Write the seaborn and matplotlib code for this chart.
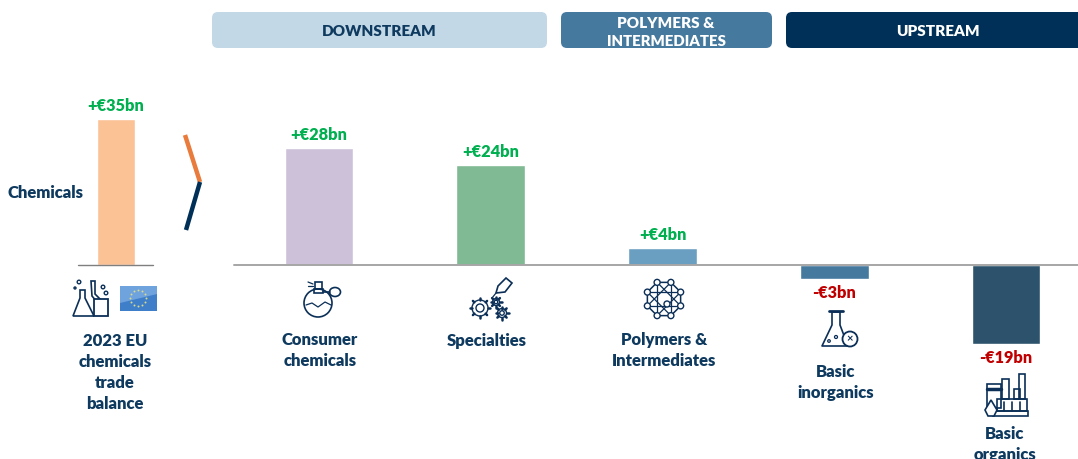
'''EU chemicals trade balance 2023'''
import numpy as np
import pandas as pd
import seaborn as sns
import matplotlib
matplotlib.use('Agg')
import matplotlib.pyplot as plt
from matplotlib.patches import Circle, Ellipse, FancyBboxPatch, Polygon, Rectangle

W, H = 1078, 459
PX_PER_BN = 4.17
BASE = 264.6
NAVY = '#0F3A5F'
ICON = '#0B2F57'
GREEN = '#00B050'
RED = '#C00000'

total_cat = ['Chemicals']
total_val = [35]
total_lab = ['+€35bn']
total_col = ['#FBC296']

segments = ['Consumer chemicals', 'Specialties', 'Polymers & Intermediates',
            'Basic inorganics', 'Basic organics']
values = [28, 24, 4, -3.4, -19]
value_labels = ['+€28bn', '+€24bn', '+€4bn', '-€3bn', '-€19bn']
colors = ['#CDC1DA', '#80BA94', '#6A9FC2', '#45799E', '#2C536B']


def px_axes(fig, left, right):
    ax = fig.add_axes([left / W, 0, (right - left) / W, 1])
    return ax


def draw_bars(ax, cats, vals, cols, labels, width):
    df = pd.DataFrame({'cat': cats, 'val': vals})
    sns.barplot(data=df, x='cat', y='val', hue='cat', palette=cols, order=cats,
                width=width, legend=False, dodge=False, saturation=1, ax=ax)
    ax.set_xlim(-0.5, len(cats) - 0.5)
    ax.set_ylim(-(H - BASE) / PX_PER_BN, BASE / PX_PER_BN)
    ax.axis('off')
    for i, (val, lab) in enumerate(zip(vals, labels)):
        sign = 1 if val > 0 else -1
        ax.annotate(lab, (i, val), xytext=(0, sign * 9.7 - 0.4), textcoords='offset points',
                    ha='center', va='center', fontsize=11.8, fontweight='heavy',
                    color=GREEN if val > 0 else RED)


def label_lines(ax, x, y, lines):
    for i, text in enumerate(lines):
        ax.text(x, y + 21 * i, text, ha='center', va='center', fontsize=12,
                fontweight='heavy', color=NAVY)


def gear(ax, x, y, r):
    ax.add_patch(Circle((x, y), r, fill=False, ec=ICON, lw=1))
    ax.add_patch(Circle((x, y), r * 0.5, fill=False, ec=ICON, lw=1))
    for a in np.arange(0, 2 * np.pi, np.pi / 4):
        ax.plot([x + r * np.cos(a), x + (r + 2) * np.cos(a)],
                [y + r * np.sin(a), y + (r + 2) * np.sin(a)], color=ICON, lw=1.8)


def line(ax, xs, ys, lw=1.2):
    ax.plot(xs, ys, color=ICON, lw=lw, solid_capstyle='round')


def icon_perfume(ax):
    ax.add_patch(Circle((318, 303), 14, fill=False, ec=ICON, lw=1.2))
    ax.add_patch(Rectangle((314, 289), 9, 4, fill=False, ec=ICON, lw=1.2))
    ax.add_patch(Rectangle((315, 282), 7, 7, fill=False, ec=ICON, lw=1.2))
    ax.add_patch(Ellipse((335, 292), 11, 9, fill=False, ec=ICON, lw=1.2))
    line(ax, [323, 330], [292, 292])
    line(ax, [308, 313], [282, 284], 0.9)
    line(ax, [308, 313], [286, 286], 0.9)
    line(ax, [306, 312, 318, 325, 331], [305, 303, 307, 302, 305], 0.9)


def icon_specialties(ax):
    gear(ax, 480, 308, 8)
    gear(ax, 502, 313, 4.5)
    gear(ax, 496, 302, 3.5)
    ax.add_patch(Polygon([[498, 286], [506, 278], [512, 283], [505, 292], [496, 293]],
                         fill=False, ec=ICON, lw=1.2))
    line(ax, [496, 492], [293, 298], 0.9)


def icon_network(ax):
    cx, cy = 664, 299
    ang = np.linspace(0, 2 * np.pi, 9)[:-1] + np.pi / 8
    xs = cx + 18 * np.cos(ang)
    ys = cy + 18 * np.sin(ang)
    ax.plot(np.r_[xs, xs[0]], np.r_[ys, ys[0]], color=ICON, lw=1.1)
    for i in range(8):
        j = (i + 3) % 8
        ax.plot([xs[i], xs[j]], [ys[i], ys[j]], color=ICON, lw=0.9)
        ax.add_patch(Circle((xs[i], ys[i]), 3, fc='white', ec=ICON, lw=1, zorder=3))
    ax.add_patch(Circle((cx + 3, cy + 5), 3, fc='white', ec=ICON, lw=1, zorder=3))


def icon_flask(ax):
    line(ax, [829, 843], [311, 311], 2)
    ax.add_patch(Polygon([[832, 312], [832, 325], [822, 346], [848, 346], [840, 325], [840, 312]],
                         fill=False, ec=ICON, lw=1.2, joinstyle='round'))
    ax.add_patch(Circle((850, 339), 7.5, fc='white', ec=ICON, lw=1.3, zorder=3))
    ax.text(850, 339, '×', ha='center', va='center', fontsize=8, fontweight='bold',
            color=ICON, zorder=4)
    ax.add_patch(Circle((836, 337), 1.5, fill=False, ec=ICON, lw=0.9))
    ax.add_patch(Circle((829, 341), 1.3, fill=False, ec=ICON, lw=0.9))


def icon_refinery(ax):
    ax.add_patch(Rectangle((987, 384), 14, 24, fill=False, ec=ICON, lw=1.2))
    ax.add_patch(Rectangle((1002, 379), 7, 20, fill=False, ec=ICON, lw=1.2))
    ax.add_patch(Rectangle((1019, 374), 6, 25, fill=False, ec=ICON, lw=1.2))
    ax.add_patch(Rectangle((1014, 389), 6, 10, fill=False, ec=ICON, lw=1.2))
    ax.add_patch(Rectangle((997, 399), 30, 12, fill=False, ec=ICON, lw=1.2))
    ax.add_patch(Rectangle((993, 411), 35, 5, fill=False, ec=ICON, lw=1.2))
    line(ax, [987, 1001], [389, 389], 2.5)
    for x in (1004, 1012, 1020):
        line(ax, [x, x], [402, 411], 1.2)
    ax.add_patch(Polygon([[991, 400], [985, 410], [988, 416], [994, 416], [997, 410]],
                         fc='white', ec=ICON, lw=1.2, zorder=3))


def icon_total(ax):
    ax.add_patch(Polygon([[91, 281], [95, 281], [95, 294], [103, 302], [97, 302], [92, 296]],
                         fill=False, ec=ICON, lw=1.2))
    ax.add_patch(Polygon([[80, 298], [80, 290], [85, 290], [85, 298], [94, 316], [73, 316]],
                         fc='white', ec=ICON, lw=1.2, zorder=3))
    ax.add_patch(Rectangle((94, 299), 14, 17, fc='white', ec=ICON, lw=1.3, zorder=3))
    line(ax, [98, 98], [304, 312], 1)
    for x, y, r in [(79, 282, 1.8), (103, 287, 1.8), (106, 293, 1.8), (75, 288, 1)]:
        ax.add_patch(Circle((x, y), r, fill=False, ec=ICON, lw=1))
    # flag
    ax.add_patch(Rectangle((120, 286), 37, 25, fc='#3F7FC9', ec='none'))
    ax.add_patch(Polygon([[120, 286], [157, 286], [157, 294], [120, 303]],
                         fc='#6FA3DE', ec='none'))
    ang = np.arange(0, 2 * np.pi, np.pi / 6)
    ax.scatter(138 + 8 * np.cos(ang), 298 + 8 * np.sin(ang), s=2, color='#D9D98A', lw=0, zorder=3)


def main():
    '''main function
    '''
    sns.set_theme(style='white')
    plt.rcParams['font.family'] = ['Lato', 'DejaVu Sans']
    fig = plt.figure(figsize=(W / 100, H / 100), dpi=100, facecolor='white')

    # 左の合計バー
    ax_total = px_axes(fig, 77.5, 153.5)
    draw_bars(ax_total, total_cat, total_val, total_col, total_lab, 0.5)

    # セグメントのバー
    ax_seg = px_axes(fig, 233.1, 1091.9)
    draw_bars(ax_seg, segments, values, colors, value_labels, 0.4)

    # ピクセル座標のオーバーレイ
    ov = fig.add_axes([0, 0, 1, 1], facecolor='none')
    ov.set_xlim(0, W)
    ov.set_ylim(H, 0)
    ov.axis('off')

    ov.plot([78, 153], [264.5, 264.5], color='#7F7F7F', lw=1)
    ov.plot([234, W], [265, 265], color='#A6A6A6', lw=1.4)

    headers = [(212, 547, '#C3D8E6'), (561, 772, '#45799E'), (786, 1090, '#003057')]
    for x0, x1, col in headers:
        ov.add_patch(FancyBboxPatch((x0 + 6, 18), x1 - x0 - 12, 24, boxstyle='round,pad=6',
                                    fc=col, ec='none'))
    ov.text(379, 32, 'DOWNSTREAM', ha='center', va='center', fontsize=11,
            fontweight='heavy', color=NAVY)
    ov.text(666, 23, 'POLYMERS &', ha='center', va='center', fontsize=11,
            fontweight='heavy', color='white')
    ov.text(666, 41, 'INTERMEDIATES', ha='center', va='center', fontsize=10.8,
            fontweight='heavy', color='white')
    ov.text(938, 32, 'UPSTREAM', ha='center', va='center', fontsize=11,
            fontweight='heavy', color='white')

    # シェブロン
    ov.plot([185, 200], [135, 182], color='#E97B3C', lw=3.2, solid_capstyle='butt')
    ov.plot([200, 186], [182, 230], color='#003057', lw=3.2, solid_capstyle='butt')

    ov.text(45, 193, 'Chemicals', ha='center', va='center', fontsize=12,
            fontweight='heavy', color=NAVY)
    label_lines(ov, 115, 341, ['2023 EU', 'chemicals', 'trade', 'balance'])
    label_lines(ov, 320, 340, ['Consumer', 'chemicals'])
    label_lines(ov, 487, 341, ['Specialties'])
    label_lines(ov, 664, 340, ['Polymers &', 'Intermediates'])
    label_lines(ov, 836, 372, ['Basic', 'inorganics'])
    label_lines(ov, 1005, 434, ['Basic', 'organics'])

    icon_total(ov)
    icon_perfume(ov)
    icon_specialties(ov)
    icon_network(ov)
    icon_flask(ov)
    icon_refinery(ov)

    ov.set_xlim(0, W)
    ov.set_ylim(H, 0)
    fig.savefig('out.png', dpi=100)


if __name__ == '__main__':
    main()
